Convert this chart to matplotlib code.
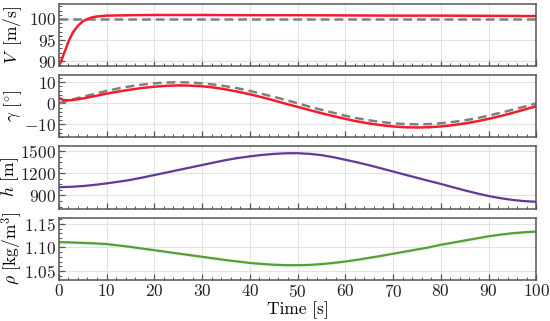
import numpy as np
import matplotlib
matplotlib.use("Agg")
import matplotlib.pyplot as plt
from matplotlib.ticker import AutoMinorLocator, MultipleLocator

plt.rcParams["font.family"] = "serif"
plt.rcParams["font.serif"] = ["cmr10", "DejaVu Serif"]
plt.rcParams["mathtext.fontset"] = "cm"
plt.rcParams["axes.formatter.use_mathtext"] = True
plt.rcParams["axes.unicode_minus"] = True
plt.rcParams["font.size"] = 12.5

# Время и значения
t_v = [0, 0.5, 1, 1.5, 2, 2.5, 3, 4, 5, 6, 7, 8, 10, 15, 20, 30, 40, 50, 60, 70, 80, 90, 100]
v_act = [88.9, 90.0, 91.6, 93.0, 94.6, 95.8, 96.9, 98.4, 99.4, 100.0, 100.4, 100.6, 100.8,
         100.9, 100.95, 100.95, 100.9, 100.9, 100.85, 100.8, 100.8, 100.75, 100.7]
v_ref = [100.0] * len(t_v)

t_g = [0, 0.5, 1, 2, 3, 5, 7.5, 10, 12.5, 15, 17.5, 20, 22.5, 25, 27.5, 30, 32.5, 35, 37.5,
       40, 42.5, 45, 47.5, 50, 52.5, 55, 57.5, 60, 62.5, 65, 67.5, 70, 72.5, 75, 77.5, 80,
       82.5, 85, 87.5, 90, 92.5, 95, 97.5, 100]
g_act = [2.6, 2.0, 1.5, 1.4, 1.6, 2.3, 3.4, 4.6, 5.6, 6.5, 7.3, 7.9, 8.3, 8.5, 8.4, 8.1, 7.5,
         6.6, 5.5, 4.3, 2.9, 1.4, -0.2, -1.7, -3.2, -4.7, -6.1, -7.4, -8.6, -9.6, -10.4, -11.0,
         -11.4, -11.5, -11.4, -11.0, -10.4, -9.6, -8.6, -7.4, -6.1, -4.6, -3.0, -1.4]
g_ref = [0.0, 0.3, 0.6, 1.3, 1.9, 3.1, 4.5, 5.9, 7.1, 8.1, 8.9, 9.5, 9.9, 10.0, 9.9, 9.5, 8.9,
         8.1, 7.1, 5.9, 4.5, 3.1, 1.6, 0.0, -1.6, -3.1, -4.5, -5.9, -7.1, -8.1, -8.9, -9.5,
         -9.9, -10.0, -9.9, -9.5, -8.9, -8.1, -7.1, -5.9, -4.5, -3.1, -1.6, 0.0]

t_h = [0, 2.5, 5, 7.5, 10, 12.5, 15, 17.5, 20, 22.5, 25, 27.5, 30, 32.5, 35, 37.5, 40, 42.5,
       45, 47.5, 50, 52.5, 55, 57.5, 60, 62.5, 65, 67.5, 70, 72.5, 75, 77.5, 80, 82.5, 85,
       87.5, 90, 92.5, 95, 97.5, 100]
h_act = [1012, 1018, 1028, 1044, 1064, 1087, 1112, 1143, 1177, 1211, 1245, 1279, 1313, 1347,
         1380, 1408, 1430, 1449, 1463, 1472, 1473, 1464, 1447, 1419, 1384, 1349, 1310, 1268,
         1225, 1182, 1140, 1098, 1057, 1013, 970, 930, 893, 864, 840, 824, 815]
rho_act = [1.111, 1.1105, 1.1095, 1.1085, 1.107, 1.104, 1.101, 1.0975, 1.094, 1.0905, 1.087,
           1.0835, 1.080, 1.0765, 1.073, 1.070, 1.067, 1.0648, 1.0632, 1.0623, 1.0622, 1.0628,
           1.0645, 1.067, 1.070, 1.0737, 1.0778, 1.082, 1.0865, 1.091, 1.0955, 1.100, 1.1055,
           1.110, 1.1145, 1.119, 1.1235, 1.127, 1.130, 1.132, 1.1335]

RED = "#f41c2c"
GREY = "#7f7f7f"
PURPLE = "#65379a"
GREEN = "#5c9c32"
SPINE = "#555555"

fig, axes = plt.subplots(4, 1, figsize=(5.5, 3.21), dpi=100, sharex=True)
fig.subplots_adjust(left=0.107, right=0.975, top=0.988, bottom=0.128, hspace=0.145)

ax = axes[0]
ax.plot(t_v, v_ref, color=GREY, lw=1.8, ls=(0, (3.5, 2)))
ax.plot(t_v, v_act, color=RED, lw=1.8)
ax.set_ylim(88.8, 103.6)
ax.yaxis.set_major_locator(MultipleLocator(5))
ax.set_ylabel(r"$V\,$ [m/s]")

ax = axes[1]
ax.plot(t_g, g_ref, color=GREY, lw=1.8, ls=(0, (3.5, 2)))
ax.plot(t_g, g_act, color=RED, lw=1.8)
ax.set_ylim(-16.2, 13.4)
ax.yaxis.set_major_locator(MultipleLocator(10))
ax.set_ylabel(r"$\gamma$ [$^{\circ}$]")

ax = axes[2]
ax.fill_between(t_h, np.array(h_act) - 12, np.array(h_act) + 12, color="#f3ecfb", lw=0)
ax.plot(t_h, h_act, color=PURPLE, lw=1.6)
ax.set_ylim(722, 1565)
ax.yaxis.set_major_locator(MultipleLocator(300))
ax.set_ylabel(r"$h$ [m]")

ax = axes[3]
ax.fill_between(t_h, np.array(rho_act) - 0.004, np.array(rho_act) + 0.004, color="#e3fbf5", lw=0)
ax.plot(t_h, rho_act, color=GREEN, lw=1.6)
ax.set_ylim(1.031, 1.163)
ax.yaxis.set_major_locator(MultipleLocator(0.05))
ax.set_ylabel(r"$\rho$ [kg/m$^3$]")
ax.set_xlabel("Time [s]", labelpad=1)
ax.set_xlim(0, 100)
ax.xaxis.set_major_locator(MultipleLocator(10))

for ax in axes:
    ax.xaxis.set_minor_locator(AutoMinorLocator())
    ax.yaxis.set_minor_locator(AutoMinorLocator())
    ax.grid(True, which="major", color="#e2e2e2", lw=0.8)
    ax.set_axisbelow(True)
    ax.tick_params(which="both", direction="in", top=False, right=False, colors=SPINE,
                   labelcolor="#222222", pad=2.5)
    ax.tick_params(axis="y", which="major", pad=1.8)
    ax.tick_params(which="major", length=4, width=0.9)
    ax.tick_params(which="minor", length=2, width=0.7)
    for s in ax.spines.values():
        s.set_color(SPINE)
        s.set_linewidth(1.1)
    ax.yaxis.set_label_coords(-0.074, 0.5)

axes[2].yaxis.set_label_coords(-0.079, 0.5)

fig.savefig("out.png", dpi=100)
